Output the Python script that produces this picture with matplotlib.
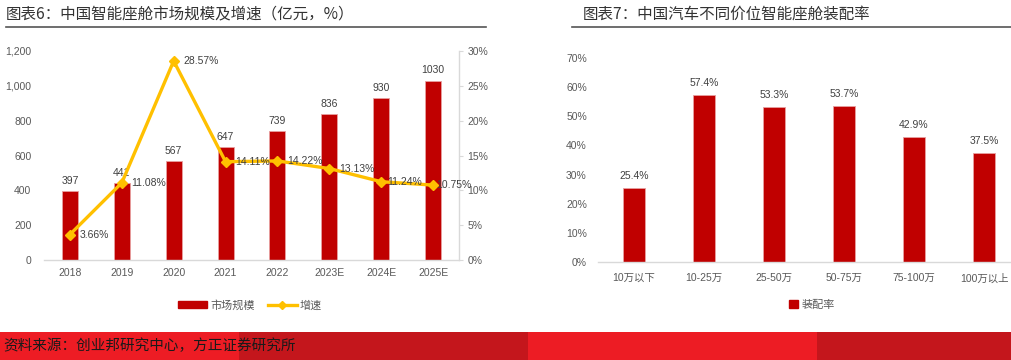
import matplotlib
matplotlib.use("Agg")
import matplotlib.pyplot as plt
from matplotlib.patches import Rectangle
from matplotlib.lines import Line2D
from matplotlib.ticker import FuncFormatter, MultipleLocator

plt.rcParams['font.family'] = ['Liberation Sans', 'Noto Sans CJK SC', 'DejaVu Sans']

# ---- data ----
years = ["2018", "2019", "2020", "2021", "2022", "2023E", "2024E", "2025E"]
market_size = [397, 441, 567, 647, 739, 836, 930, 1030]
growth = [3.66, 11.08, 28.57, 14.11, 14.22, 13.13, 11.24, 10.75]

price_bands = ["10万以下", "10-25万", "25-50万", "50-75万", "75-100万", "100万以上"]
fit_rate = [25.4, 57.4, 53.3, 53.7, 42.9, 37.5]

title_left = "图表6：中国智能座舱市场规模及增速（亿元，%）"
title_right = "图表7：中国汽车不同价位智能座舱装配率"
source_text = "资料来源：创业邦研究中心，方正证券研究所"

RED = "#C00000"
YELLOW = "#FFC000"
GREY_TXT = "#595959"
LABEL_TXT = "#404040"
SPINE = "#D9D9D9"
CJK = ['Noto Sans CJK SC', 'DejaVu Sans']

W, H = 1012, 360
fig = plt.figure(figsize=(W / 100, H / 100), dpi=100)

def fx(px):
    return px / W

def fy(py):
    return 1 - py / H

# ---- titles and rules ----
fig.text(fx(6), fy(14), title_left, family=CJK, fontsize=11.2, color="#333333", va="center", ha="left")
fig.text(fx(583), fy(14), title_right, family=CJK, fontsize=11.2, color="#333333", va="center", ha="left")
fig.add_artist(Line2D([fx(6), fx(486)], [fy(26.5), fy(26.5)], color="#555555", lw=1.2))
fig.add_artist(Line2D([fx(572), fx(1012)], [fy(26.5), fy(26.5)], color="#555555", lw=1.2))

# ---- bottom banner ----
for x0, x1, c in [(0, 239, "#ED1C24"), (239, 528, "#C4161C"), (528, 817, "#ED1C24"), (817, 1012, "#C4161C")]:
    fig.add_artist(Rectangle((fx(x0), 0), fx(x1 - x0), fy(332), color=c, lw=0, transform=fig.transFigure))
fig.text(fx(3), fy(346), source_text, family=CJK, fontsize=10.5, color="#1a1a1a", va="center", ha="left", style="italic")

# ---- left chart ----
ax1 = fig.add_axes([fx(44), fy(260), fx(415), (260 - 51) / H])
x = list(range(len(years)))
ax1.bar(x, market_size, width=0.31, color=RED, edgecolor="#E8A0A0", linewidth=0.6, zorder=2)
ax1.set_xlim(-0.5, len(years) - 0.5)
ax1.set_ylim(0, 1200)
ax1.yaxis.set_major_locator(MultipleLocator(200))
ax1.yaxis.set_major_formatter(FuncFormatter(lambda v, p: f"{int(v):,}"))
for s in ["left", "top", "right"]:
    ax1.spines[s].set_visible(False)
ax1.spines["bottom"].set_color(SPINE)
ax1.spines["bottom"].set_linewidth(1)
ax1.set_xticks(x)
ax1.set_xticklabels(years)
ax1.tick_params(axis="both", length=0, labelsize=7.5, colors=GREY_TXT)
ax1.tick_params(axis="x", pad=6)
ax1.tick_params(axis="y", pad=9)
for xi, v in zip(x, market_size):
    ax1.text(xi, v + 30, f"{v}", ha="center", va="bottom", fontsize=7.5, color=LABEL_TXT)

ax2 = ax1.twinx()
ax2.plot(x, growth, color=YELLOW, lw=2.4, marker="D", markersize=5.5, markerfacecolor=YELLOW,
         markeredgecolor=YELLOW, zorder=3)
ax2.set_ylim(0, 30)
ax2.yaxis.set_major_locator(MultipleLocator(5))
ax2.yaxis.set_major_formatter(FuncFormatter(lambda v, p: f"{int(v)}%"))
for s in ["left", "top", "bottom"]:
    ax2.spines[s].set_visible(False)
ax2.spines["right"].set_color(SPINE)
ax2.spines["right"].set_linewidth(1)
ax2.tick_params(axis="y", length=3, width=0.8, color=SPINE, labelsize=7.5, labelcolor=GREY_TXT, pad=3)
offsets = [7, 7, 7, 7, 7, 7, 4, 2]
for xi, v, off in zip(x, growth, offsets):
    ax2.annotate(f"{v:.2f}%", (xi, v), xytext=(off, 0), textcoords="offset points",
                 ha="left", va="center", fontsize=7.5, color=LABEL_TXT, zorder=4)

h1 = Rectangle((0, 0), 1, 1, color=RED)
h2 = Line2D([], [], color=YELLOW, lw=2.4, marker="D", markersize=4)
fig.legend([h1, h2], ["市场规模", "增速"], loc="center", bbox_to_anchor=(fx(250), fy(305)),
           ncol=2, frameon=False, prop={'family': CJK, 'size': 8}, labelcolor=GREY_TXT,
           handlelength=2.6, handleheight=0.6, columnspacing=1.2, handletextpad=0.3)

# ---- right chart ----
ax3 = fig.add_axes([fx(598), fy(262), fx(414), (262 - 58) / H])
xr = list(range(len(price_bands)))
ax3.bar(xr, fit_rate, width=0.32, color=RED, edgecolor="#E8A0A0", linewidth=0.6, zorder=2)
ax3.set_xlim(-0.514, 5.4)
ax3.set_ylim(0, 70)
ax3.yaxis.set_major_locator(MultipleLocator(10))
ax3.yaxis.set_major_formatter(FuncFormatter(lambda v, p: f"{int(v)}%"))
for s in ["left", "top", "right"]:
    ax3.spines[s].set_visible(False)
ax3.spines["bottom"].set_color(SPINE)
ax3.spines["bottom"].set_linewidth(1)
ax3.set_xticks(xr)
ax3.set_xticklabels(price_bands)
ax3.tick_params(axis="both", length=0, labelsize=7.5, colors=GREY_TXT)
ax3.tick_params(axis="x", pad=8)
ax3.tick_params(axis="y", pad=8)
for xi, v in zip(xr, fit_rate):
    ax3.text(xi, v + 2.3, f"{v:.1f}%", ha="center", va="bottom", fontsize=7.5, color=LABEL_TXT)

h3 = Rectangle((0, 0), 1, 1, color=RED)
fig.legend([h3], ["装配率"], loc="center", bbox_to_anchor=(fx(812), fy(305)),
           frameon=False, prop={'family': CJK, 'size': 8}, labelcolor=GREY_TXT,
           handlelength=0.8, handleheight=0.8, handletextpad=0.3)

fig.savefig("out.png", dpi=100)
